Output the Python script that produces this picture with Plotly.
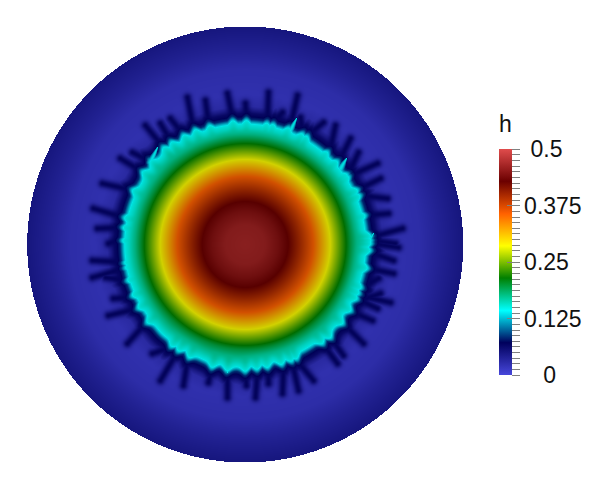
import numpy as np
import plotly.graph_objects as go

# Radial thickness profile read along a ray from the centre
profile_r = [0, 20, 33, 43, 55, 68, 85, 101, 110, 116, 120, 122, 125, 128, 131, 134, 138, 150, 175, 195, 218]
profile_h = [0.465, 0.460, 0.445, 0.4286, 0.395, 0.357, 0.2857, 0.214, 0.176, 0.156, 0.146, 0.125, 0.085, 0.070, 0.062, 0.045, 0.027, 0.020, 0.024, 0.036, 0.048]

# Contact-line radius every 5 degrees, counter-clockwise from +x
front_r = [124, 124, 121, 121, 122, 123, 122, 121, 122, 122, 121, 122, 123, 122, 123, 121, 121, 122,
           122, 122, 123, 122, 122, 124, 123, 124, 125, 125, 124, 124, 123, 123, 123, 122, 121, 121,
           120, 121, 119, 121, 121, 122, 122, 123, 123, 125, 125, 123, 124, 124, 126, 125, 125, 126,
           125, 123, 123, 123, 124, 123, 123, 123, 124, 125, 124, 122, 123, 122, 121, 123, 122, 122]
front_angle = [5 * i for i in range(72)]

# Fingers: base and tip
finger_base_x = [192, 232, 208, 246, 182, 163, 170, 152, 143, 133, 123, 122, 117,
                 267, 292, 273, 302, 307, 330, 340, 348, 350, 360, 360, 365, 377, 373,
                 373, 365, 368, 360, 360, 368, 360, 353, 345, 330, 325, 298, 292, 283, 268, 257,
                 127, 127, 127, 128, 137, 143, 170, 173, 187, 212, 227, 245]
finger_base_y = [123, 117, 122, 118, 133, 147, 140, 162, 172, 190, 217, 227, 240,
                 120, 117, 122, 133, 135, 148, 158, 173, 175, 188, 195, 215, 235, 240,
                 243, 250, 268, 287, 300, 297, 300, 312, 325, 337, 347, 362, 363, 370, 372, 372,
                 262, 267, 280, 297, 308, 325, 347, 358, 360, 365, 367, 372]
finger_tip_x = [187, 227, 205, 245, 170, 145, 160, 132, 120, 102, 93, 97, 108,
                268, 297, 282, 300, 323, 335, 350, 358, 377, 380, 387, 388, 402, 395,
                398, 393, 393, 378, 380, 390, 377, 372, 363, 343, 337, 313, 298, 282, 268, 255,
                92, 92, 105, 113, 108, 127, 152, 160, 183, 208, 227, 246]
finger_tip_y = [97, 93, 100, 103, 118, 125, 123, 152, 158, 183, 208, 228, 243,
                92, 95, 112, 117, 122, 125, 138, 152, 163, 178, 198, 213, 228, 243,
                247, 260, 273, 278, 293, 302, 308, 320, 343, 355, 363, 380, 390, 393, 383, 397,
                260, 277, 277, 298, 315, 343, 353, 380, 385, 382, 397, 385]

# Cyan cusps of the front
cusp_base_x = [289, 150, 367, 340, 227]
cusp_base_y = [132, 162, 243, 168, 362]
cusp_tip_x = [296, 157, 373, 346, 227]
cusp_tip_y = [118, 147, 233, 158, 372]

# Colour bar
tick_values = [i * 0.0125 for i in range(41)]
major_values = [0, 0.125, 0.25, 0.375, 0.5]
major_labels = ["\u00a0\u00a0\u00a00", "0.125", "0.25", "0.375", "\u00a00.5"]
color_stops = [0.0, 0.143, 0.285, 0.429, 0.571, 0.714, 0.857, 1.0]
color_rgb = [(71, 71, 219), (0, 0, 92), (0, 255, 255), (0, 128, 0),
             (255, 255, 0), (255, 97, 0), (107, 0, 0), (224, 76, 76)]
field_shade = [0.95, 0.92, 0.9, 0.85, 0.82, 0.82, 0.82, 0.82]
bar_scale = [[s, "rgb(%d,%d,%d)" % c] for s, c in zip(color_stops, color_rgb)]
field_scale = [[s, "rgb(%d,%d,%d)" % tuple(round(v * f) for v in c)]
               for s, c, f in zip(color_stops, color_rgb, field_shade)]

cx, cy, radius = 244.7, 244.0, 218.0
xs = np.arange(26, 465) + 0.0
ys = np.arange(25, 464) + 0.0
X, Y = np.meshgrid(xs, ys)
dx, dy = X - cx, cy - Y
R = np.hypot(dx, dy)
TH = np.degrees(np.arctan2(dy, dx)) % 360

# Front: slow shape, scalloped so that it peaks at each finger root
deg = np.arange(360)
fine = np.interp(deg, front_angle + [360], front_r + [front_r[0]])
fine = np.convolve(np.r_[fine[-4:], fine, fine[:4]], np.ones(9) / 9, mode="valid")
slow = np.interp(TH, np.r_[deg, 360], np.r_[fine, fine[0]])
base_angle = np.degrees(np.arctan2(cy - np.array(finger_base_y), np.array(finger_base_x) - cx)) % 360
scallop = np.zeros_like(R)
for a in base_angle:
    gap = (TH - a + 180) % 360 - 180
    scallop = np.maximum(scallop, np.exp(-gap ** 2 / (2 * 1.5 ** 2)))

outer = np.clip((165 - R) / 25, 0, 1)
w_slow = np.clip((R - 105) / 13, 0, 1) * outer
w_scallop = np.clip((R - 112) / 10, 0, 1) * outer
rho = R - (slow - 122) * w_slow - (5.0 * scallop - 1.5) * w_scallop
h = np.interp(rho, profile_r, profile_h)
bg = np.interp(R, profile_r, profile_h)


def segment(bx, by, tx, ty):
    vx, vy = tx - bx, ty - by
    t = np.clip(((X - bx) * vx + (Y - by) * vy) / (vx * vx + vy * vy), 0, 1)
    return t, (X - bx - t * vx) ** 2 + (Y - by - t * vy) ** 2


for bx, by, tx, ty in zip(finger_base_x, finger_base_y, finger_tip_x, finger_tip_y):
    t, d2 = segment(bx, by, tx, ty)
    ridge = bg + (0.068 - bg) * np.exp(-d2 / (2 * 3.0 ** 2))
    h = np.maximum(h, np.where(R > 100, ridge, 0))
for bx, by, tx, ty in zip(cusp_base_x, cusp_base_y, cusp_tip_x, cusp_tip_y):
    t, d2 = segment(bx, by, tx, ty)
    width = 3.6 * (1 - t) + 0.8
    ridge = 0.14 * np.exp(-d2 / (2 * width ** 2))
    h = np.maximum(h, np.where(R > 100, ridge, 0))
h = np.where(R <= radius, h, np.nan)

font = dict(family="Liberation Sans, Arial, sans-serif", size=23, color="#111111")
bar_common = dict(lenmode="pixels", len=225.5, thicknessmode="pixels", thickness=12.5,
                  x=(499.3 - 8) / 598, xanchor="left", y=1 - (262.2 - 8) / 489, yanchor="middle",
                  outlinewidth=0, xpad=0, ypad=0)

fig = go.Figure()
fig.add_trace(go.Heatmap(
    x=xs, y=ys, z=h, zmin=0, zmax=0.5, colorscale=field_scale, hoverongaps=False,
    colorbar=dict(**bar_common, ticks="outside", ticklen=8, tickwidth=1, tickcolor="#808080",
                  tickvals=tick_values,
                  ticktext=[major_labels[major_values.index(round(v, 4))] if round(v, 4) in major_values else ""
                            for v in tick_values],
                  tickfont=font),
))
fig.add_trace(go.Scatter(
    x=[None], y=[None], mode="markers", showlegend=False, hoverinfo="skip",
    marker=dict(color=[0], cmin=0, cmax=0.5, colorscale=bar_scale, showscale=True,
                colorbar=dict(**bar_common, ticks="inside", ticklen=5, tickwidth=1, tickcolor="#808080",
                              tickvals=major_values[1:4], showticklabels=False)),
))
fig.add_annotation(x=(499.5 - 8) / 598, xref="paper", xanchor="left", y=1 - (124 - 8) / 489, yref="paper",
                   yanchor="middle", text="h", showarrow=False, font=font, xshift=-2)
fig.update_layout(
    width=598, height=489, margin=dict(l=0, r=0, t=0, b=0, autoexpand=False),
    paper_bgcolor="white", plot_bgcolor="white", showlegend=False,
    xaxis=dict(range=[8, 606], visible=False),
    yaxis=dict(range=[497, 8], visible=False),
)
fig.write_html("out.html", config=dict(displayModeBar=False))
